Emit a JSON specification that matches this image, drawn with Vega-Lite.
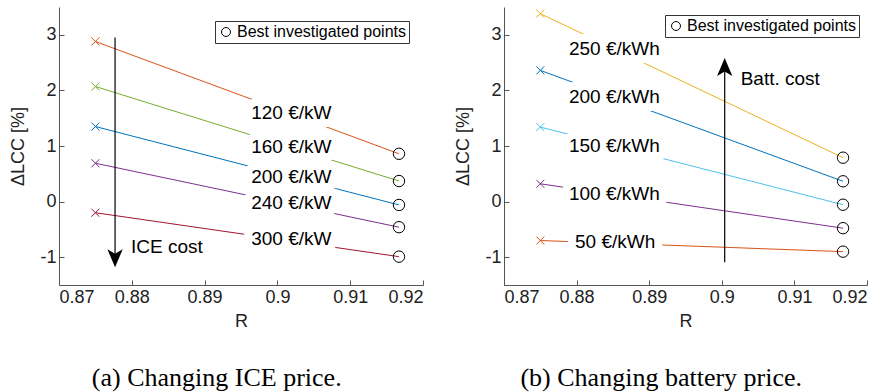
{
  "$schema": "https://vega.github.io/schema/vega-lite/v6.json",
  "background": "white",
  "padding": {"left": 9, "top": 7, "right": 5, "bottom": 2},
  "config": {
    "view": {"stroke": null},
    "font": "Liberation Sans",
    "axis": {
      "grid": false,
      "domainColor": "#555555",
      "tickColor": "#555555",
      "tickSize": -5,
      "labelFont": "Liberation Sans",
      "labelFontSize": 18,
      "labelColor": "#222222",
      "labelPadding": 8,
      "titleFont": "Liberation Sans",
      "titleFontSize": 18,
      "titleFontWeight": "normal",
      "titleColor": "#222222"
    },
    "axisX": {"titlePadding": 6},
    "axisY": {"titlePadding": 12},
    "title": {"font": "Liberation Serif", "fontSize": 26, "fontWeight": "normal", "color": "black", "orient": "bottom", "frame": "bounds", "anchor": "middle", "offset": 35}
  },
  "datasets": {
    "iceLines": [
      {"R": 0.875, "dLCC": 2.88, "cost": "120 €/kW"}, {"R": 0.9167, "dLCC": 0.86, "cost": "120 €/kW"},
      {"R": 0.875, "dLCC": 2.07, "cost": "160 €/kW"}, {"R": 0.9167, "dLCC": 0.37, "cost": "160 €/kW"},
      {"R": 0.875, "dLCC": 1.35, "cost": "200 €/kW"}, {"R": 0.9167, "dLCC": -0.06, "cost": "200 €/kW"},
      {"R": 0.875, "dLCC": 0.69, "cost": "240 €/kW"}, {"R": 0.9167, "dLCC": -0.46, "cost": "240 €/kW"},
      {"R": 0.875, "dLCC": -0.2, "cost": "300 €/kW"}, {"R": 0.9167, "dLCC": -0.99, "cost": "300 €/kW"}
    ],
    "iceLabels": [
      {"R": 0.8964, "dLCC": 1.59, "cost": "120 €/kW"},
      {"R": 0.8964, "dLCC": 0.98, "cost": "160 €/kW"},
      {"R": 0.8964, "dLCC": 0.45, "cost": "200 €/kW"},
      {"R": 0.8964, "dLCC": -0.03, "cost": "240 €/kW"},
      {"R": 0.8964, "dLCC": -0.68, "cost": "300 €/kW"}
    ],
    "iceArrow": [{"R": 0.8777, "dLCC": 2.95, "dLCC2": -1.02}],
    "iceNote": [{"R": 0.8799, "dLCC": -0.82, "note": "ICE cost"}],
    "battLines": [
      {"R": 0.875, "dLCC": 3.38, "cost": "250 €/kWh"}, {"R": 0.9167, "dLCC": 0.79, "cost": "250 €/kWh"},
      {"R": 0.875, "dLCC": 2.36, "cost": "200 €/kWh"}, {"R": 0.9167, "dLCC": 0.365, "cost": "200 €/kWh"},
      {"R": 0.875, "dLCC": 1.34, "cost": "150 €/kWh"}, {"R": 0.9167, "dLCC": -0.056, "cost": "150 €/kWh"},
      {"R": 0.875, "dLCC": 0.32, "cost": "100 €/kWh"}, {"R": 0.9167, "dLCC": -0.478, "cost": "100 €/kWh"},
      {"R": 0.875, "dLCC": -0.7, "cost": "50 €/kWh"}, {"R": 0.9167, "dLCC": -0.9, "cost": "50 €/kWh"}
    ],
    "battLabels": [
      {"R": 0.87895, "dLCC": 2.75, "cost": "250 €/kWh"},
      {"R": 0.87895, "dLCC": 1.875, "cost": "200 €/kWh"},
      {"R": 0.87895, "dLCC": 1.0, "cost": "150 €/kWh"},
      {"R": 0.87895, "dLCC": 0.143, "cost": "100 €/kWh"},
      {"R": 0.87978, "dLCC": -0.73, "cost": "50 €/kWh"}
    ],
    "battArrow": [{"R": 0.9004, "dLCC": -1.09, "dLCC2": 2.42}],
    "battNote": [{"R": 0.9026, "dLCC": 2.21, "note": "Batt. cost"}]
  },
  "resolve": {"scale": {"color": "independent", "shape": "independent"}, "legend": {"shape": "independent"}},
  "hconcat": [
    {
      "width": 364,
      "height": 278,
      "title": {"text": "(a) Changing ICE price."},
      "encoding": {
        "x": {"field": "R", "type": "quantitative", "title": "R", "scale": {"domain": [0.87, 0.92], "nice": false}, "axis": {"values": [0.87, 0.88, 0.89, 0.9, 0.91, 0.92], "format": "~g"}},
        "y": {"field": "dLCC", "type": "quantitative", "title": "ΔLCC [%]", "scale": {"domain": [-1.5, 3.5], "nice": false}, "axis": {"values": [-1, 0, 1, 2, 3], "labelExpr": "'' + datum.value"}}
      },
      "layer": [
        {
          "data": {"name": "iceLines"},
          "mark": {"type": "line", "strokeWidth": 1},
          "encoding": {
            "color": {"field": "cost", "type": "nominal", "legend": null, "scale": {"domain": ["120 €/kW", "160 €/kW", "200 €/kW", "240 €/kW", "300 €/kW"], "range": ["#D95319", "#77AC30", "#0072BD", "#7E2F8E", "#A2142F"]}}
          }
        },
        {
          "data": {"name": "iceLines"},
          "transform": [{"filter": "datum.R < 0.9"}],
          "mark": {"type": "point", "shape": "M-1,-1L1,1M-1,1L1,-1", "filled": false, "size": 64, "strokeWidth": 1, "opacity": 1},
          "encoding": {
            "color": {"field": "cost", "type": "nominal", "legend": null}
          }
        },
        {
          "data": {"name": "iceLines"},
          "transform": [{"filter": "datum.R > 0.9"}],
          "mark": {"type": "point", "filled": false, "size": 130, "strokeWidth": 1, "color": "black", "opacity": 1},
          "encoding": {
            "shape": {"datum": "Best investigated points", "type": "nominal", "scale": {"range": ["circle"]},
              "legend": {"title": null, "orient": "top-right", "offset": 14, "strokeColor": "#333333", "fillColor": "white", "padding": 3, "labelFont": "Liberation Sans", "labelFontSize": 16, "labelLimit": 400, "labelColor": "black", "symbolStrokeColor": "black", "symbolFillColor": "transparent", "symbolSize": 80, "symbolStrokeWidth": 1, "labelOffset": 3}}
          }
        },
        {
          "data": {"name": "iceLabels"},
          "mark": {"type": "text", "align": "left", "baseline": "middle", "fontSize": 19, "stroke": "white", "strokeWidth": 16, "strokeJoin": "round", "fill": "white"},
          "encoding": {"text": {"field": "cost"}}
        },
        {
          "data": {"name": "iceLabels"},
          "mark": {"type": "text", "align": "left", "baseline": "middle", "fontSize": 19, "color": "black"},
          "encoding": {"text": {"field": "cost"}}
        },
        {
          "data": {"name": "iceArrow"},
          "mark": {"type": "rule", "color": "black", "strokeWidth": 1.2},
          "encoding": {"y2": {"field": "dLCC2"}}
        },
        {
          "data": {"name": "iceArrow"},
          "mark": {"type": "point", "shape": "M0,1L-0.85,-1L0,-0.5L0.85,-1Z", "filled": true, "color": "black", "size": 324, "opacity": 1},
          "encoding": {"y": {"field": "dLCC2", "type": "quantitative", "title": "ΔLCC [%]"}}
        },
        {
          "data": {"name": "iceNote"},
          "mark": {"type": "text", "align": "left", "baseline": "middle", "fontSize": 19, "color": "black"},
          "encoding": {"text": {"field": "note"}}
        }
      ]
    },
    {
      "width": 363,
      "height": 278,
      "title": {"text": "(b) Changing battery price."},
      "encoding": {
        "x": {"field": "R", "type": "quantitative", "title": "R", "scale": {"domain": [0.87, 0.92], "nice": false}, "axis": {"values": [0.87, 0.88, 0.89, 0.9, 0.91, 0.92], "format": "~g"}},
        "y": {"field": "dLCC", "type": "quantitative", "title": "ΔLCC [%]", "scale": {"domain": [-1.5, 3.5], "nice": false}, "axis": {"values": [-1, 0, 1, 2, 3], "labelExpr": "'' + datum.value"}}
      },
      "layer": [
        {
          "data": {"name": "battLines"},
          "mark": {"type": "line", "strokeWidth": 1},
          "encoding": {
            "color": {"field": "cost", "type": "nominal", "legend": null, "scale": {"domain": ["250 €/kWh", "200 €/kWh", "150 €/kWh", "100 €/kWh", "50 €/kWh"], "range": ["#EDB120", "#0072BD", "#4DBEEE", "#7E2F8E", "#D95319"]}}
          }
        },
        {
          "data": {"name": "battLines"},
          "transform": [{"filter": "datum.R < 0.9"}],
          "mark": {"type": "point", "shape": "M-1,-1L1,1M-1,1L1,-1", "filled": false, "size": 64, "strokeWidth": 1, "opacity": 1},
          "encoding": {
            "color": {"field": "cost", "type": "nominal", "legend": null}
          }
        },
        {
          "data": {"name": "battLines"},
          "transform": [{"filter": "datum.R > 0.9"}],
          "mark": {"type": "point", "filled": false, "size": 130, "strokeWidth": 1, "color": "black", "opacity": 1},
          "encoding": {
            "shape": {"datum": "Best investigated points", "type": "nominal", "scale": {"range": ["circle"]},
              "legend": {"title": null, "orient": "top-right", "offset": 8, "strokeColor": "#333333", "fillColor": "white", "padding": 3, "labelFont": "Liberation Sans", "labelFontSize": 16, "labelLimit": 400, "labelColor": "black", "symbolStrokeColor": "black", "symbolFillColor": "transparent", "symbolSize": 80, "symbolStrokeWidth": 1, "labelOffset": 3}}
          }
        },
        {
          "data": {"name": "battLabels"},
          "mark": {"type": "text", "align": "left", "baseline": "middle", "fontSize": 19, "stroke": "white", "strokeWidth": 16, "strokeJoin": "round", "fill": "white"},
          "encoding": {"text": {"field": "cost"}}
        },
        {
          "data": {"name": "battLabels"},
          "mark": {"type": "text", "align": "left", "baseline": "middle", "fontSize": 19, "color": "black"},
          "encoding": {"text": {"field": "cost"}}
        },
        {
          "data": {"name": "battArrow"},
          "mark": {"type": "rule", "color": "black", "strokeWidth": 1.2},
          "encoding": {"y2": {"field": "dLCC2"}}
        },
        {
          "data": {"name": "battArrow"},
          "mark": {"type": "point", "shape": "M0,-1L-0.85,1L0,0.5L0.85,1Z", "filled": true, "color": "black", "size": 324, "opacity": 1},
          "encoding": {"y": {"field": "dLCC2", "type": "quantitative", "title": "ΔLCC [%]"}}
        },
        {
          "data": {"name": "battNote"},
          "mark": {"type": "text", "align": "left", "baseline": "middle", "fontSize": 19, "color": "black"},
          "encoding": {"text": {"field": "note"}}
        }
      ]
    }
  ],
  "spacing": 30
}
